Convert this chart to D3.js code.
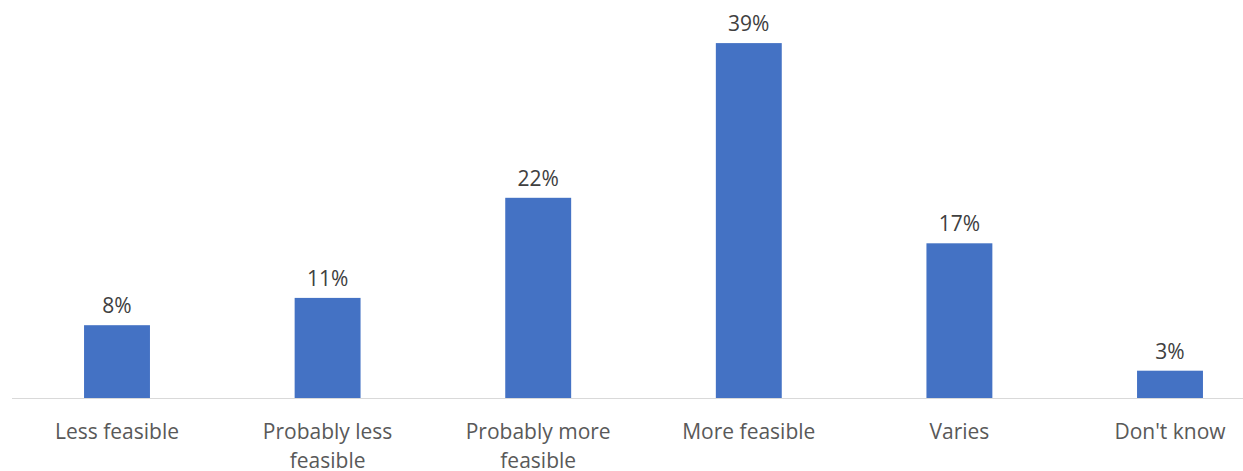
<!DOCTYPE html>
<html>
<head>
<meta charset="utf-8">
<script src="https://cdn.jsdelivr.net/npm/d3@7"></script>
<style>
  body { margin: 0; background: #fff; }
  svg { display: block; font-family: "Open Sans", Lato, sans-serif; }
</style>
</head>
<body>
<div id="chart"></div>
<script>
const categories = ["Less feasible", "Probably less feasible", "Probably more feasible", "More feasible", "Varies", "Don't know"];
const catLines = [["Less feasible"], ["Probably less", "feasible"], ["Probably more", "feasible"], ["More feasible"], ["Varies"], ["Don't know"]];
const values = [8, 11, 22, 39, 17, 3];

const width = 1243, height = 471;
const baseY = 398;

const svg = d3.select("#chart").append("svg")
  .attr("width", width)
  .attr("height", height);

const x = d3.scaleBand()
  .domain(categories)
  .range([11.7, 1275.3])
  .paddingInner(0.687)
  .paddingOuter(0.3435);

const y = d3.scaleLinear()
  .domain([0, 40])
  .range([baseY, 34]);

// bars
svg.append("g")
  .selectAll("rect")
  .data(values)
  .join("rect")
  .attr("x", (d, i) => x(categories[i]))
  .attr("y", d => y(d))
  .attr("width", x.bandwidth())
  .attr("height", d => y(0) - y(d))
  .attr("fill", "#4472C4");

// baseline
svg.append("line")
  .attr("x1", 12).attr("x2", width)
  .attr("y1", baseY + 0.5).attr("y2", baseY + 0.5)
  .attr("stroke", "#d9d9d9")
  .attr("stroke-width", 1);

// value labels
svg.append("g")
  .selectAll("text")
  .data(values)
  .join("text")
  .attr("x", (d, i) => x(categories[i]) + x.bandwidth() / 2)
  .attr("y", d => y(d) - 12)
  .attr("text-anchor", "middle")
  .attr("fill", "#404040")
  .attr("font-size", 21)
  .text(d => d + "%");

// category labels
const lbl = svg.append("g")
  .selectAll("text")
  .data(categories)
  .join("text")
  .attr("x", d => x(d) + x.bandwidth() / 2)
  .attr("y", 439)
  .attr("text-anchor", "middle")
  .attr("fill", "#595959")
  .attr("font-size", 21);

lbl.each(function(d, i) {
  d3.select(this).selectAll("tspan")
    .data(catLines[i])
    .join("tspan")
    .attr("x", x(d) + x.bandwidth() / 2)
    .attr("dy", (t, j) => j === 0 ? 0 : 29)
    .text(t => t);
});
</script>
</body>
</html>
